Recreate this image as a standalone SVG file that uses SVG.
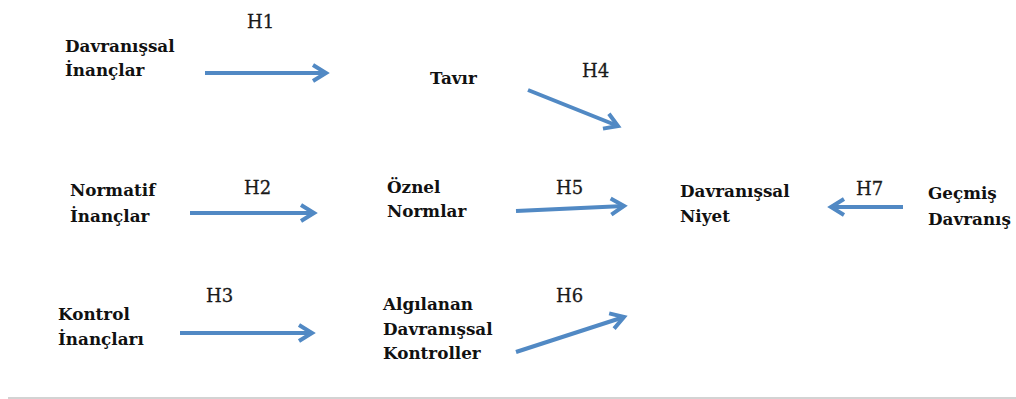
<svg xmlns="http://www.w3.org/2000/svg" width="1016" height="399" viewBox="0 0 1016 399">
<style>
.n{font-family:"DejaVu Serif","Liberation Serif",serif;font-weight:bold;font-size:16.8px;fill:#111}
.h{font-family:"DejaVu Serif","Liberation Serif",serif;font-size:18px;fill:#1a1a1a;stroke:#1a1a1a;stroke-width:0.3}
.c{stroke:#5189c4;stroke-width:4;fill:none}
</style>
<defs>
<marker id="ah" markerUnits="userSpaceOnUse" markerWidth="22" markerHeight="22" viewBox="0 0 22 22" refX="18" refY="11" orient="auto">
<path d="M5,3 L18,11 L5,19" fill="none" stroke="#5189c4" stroke-width="4" stroke-linejoin="miter"/>
</marker>
</defs>
<rect width="1016" height="399" fill="#fff"/>
<g id="connectors">
<line class="c" x1="205" y1="73" x2="326" y2="73" marker-end="url(#ah)"/>
<line class="c" x1="528" y1="90" x2="618" y2="126" marker-end="url(#ah)"/>
<line class="c" x1="190" y1="213" x2="314" y2="213" marker-end="url(#ah)"/>
<line class="c" x1="516" y1="211" x2="624" y2="206" marker-end="url(#ah)"/>
<line class="c" x1="903" y1="207" x2="831" y2="207" marker-end="url(#ah)"/>
<line class="c" x1="180" y1="333" x2="312" y2="333" marker-end="url(#ah)"/>
<line class="c" x1="516" y1="352" x2="624" y2="317" marker-end="url(#ah)"/>
</g>
<g id="labels">
<text class="h" x="247" y="28">H1</text>
<text class="h" x="582" y="77">H4</text>
<text class="h" x="244" y="194">H2</text>
<text class="h" x="556" y="194">H5</text>
<text class="h" x="856" y="195">H7</text>
<text class="h" x="206" y="302">H3</text>
<text class="h" x="556" y="302">H6</text>
</g>
<g id="davranissal-inanclar"><text class="n" x="65" y="52">Davranışsal</text><text class="n" x="65" y="76">İnançlar</text></g>
<g id="tavir"><text class="n" x="430" y="84">Tavır</text></g>
<g id="normatif-inanclar"><text class="n" x="70" y="196">Normatif</text><text class="n" x="70" y="222">İnançlar</text></g>
<g id="oznel-normlar"><text class="n" x="387" y="193">Öznel</text><text class="n" x="387" y="217">Normlar</text></g>
<g id="davranissal-niyet"><text class="n" x="680" y="197">Davranışsal</text><text class="n" x="680" y="222">Niyet</text></g>
<g id="gecmis-davranis"><text class="n" x="928" y="199">Geçmiş</text><text class="n" x="928" y="225">Davranış</text></g>
<g id="kontrol-inanclari"><text class="n" x="58" y="320">Kontrol</text><text class="n" x="58" y="345">İnançları</text></g>
<g id="algilanan"><text class="n" x="383" y="310">Algılanan</text><text class="n" x="383" y="335">Davranışsal</text><text class="n" x="383" y="359">Kontroller</text></g>
<line x1="8" y1="398" x2="1016" y2="398" stroke="#c4c4c4" stroke-width="1.5"/>
</svg>
